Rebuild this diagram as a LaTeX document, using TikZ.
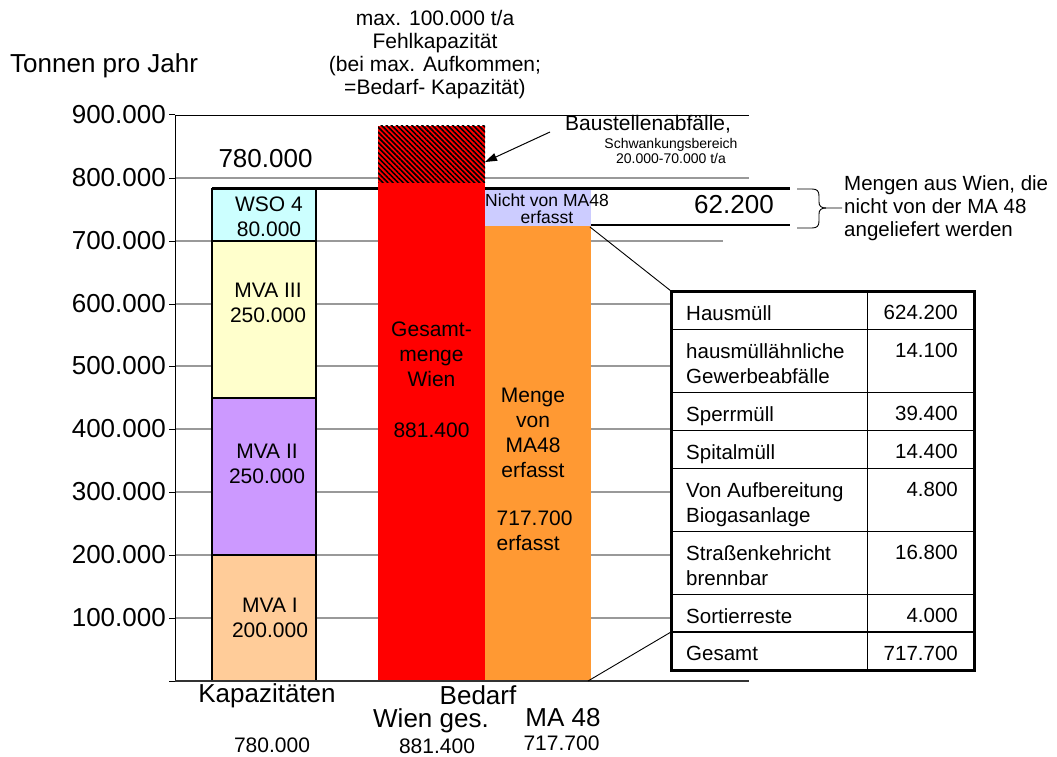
\documentclass[tikz,border=0pt]{standalone}
\usepackage{fontspec}
\setmainfont{Liberation Sans}
\usepackage{tikz}
\usetikzlibrary{arrows.meta,patterns.meta}
\definecolor{mvaone}{HTML}{FFCC99}
\definecolor{mvatwo}{HTML}{CC99FF}
\definecolor{mvathree}{HTML}{FFFFCC}
\definecolor{wsofour}{HTML}{CCFFFF}
\definecolor{nichtlila}{HTML}{CCCCFF}
\definecolor{maorange}{HTML}{FF9933}
\definecolor{gridgray}{HTML}{999999}
\newcommand{\fbig}{\fontsize{26}{30}\selectfont}
\newcommand{\fmid}{\fontsize{21}{25}\selectfont}
\newcommand{\fnote}{\fontsize{21}{23}\selectfont}
\newcommand{\fside}{\fontsize{20.5}{23}\selectfont}
\newcommand{\ftab}{\fontsize{20.5}{25}\selectfont}
\newcommand{\fsml}{\fontsize{17.5}{17}\selectfont}
\newcommand{\ftiny}{\fontsize{14}{15}\selectfont}

\begin{document}
\begin{tikzpicture}[x=1pt,y=-1pt,
  txt/.style={inner sep=0pt,font=\fmid},
  segbox/.style={draw=black,line width=1.2pt},
  thickrule/.style={line width=2.6pt}]
  \useasboundingbox (0,0) rectangle (1057,757);
  % grid
  \draw[gridgray,line width=1.2pt] (175,618) -- (749,618) (175,555) -- (749,555)
    (175,492) -- (749,492) (175,429) -- (749,429) (175,366) -- (749,366)
    (175,304) -- (749,304) (175,241) -- (723,241) (175,178) -- (749,178);
  \draw[line width=0.9pt] (175,115) -- (749,115);
  \draw[thickrule] (212,188.5) -- (790,188.5);
  \draw[thickrule] (590,225) -- (790,225);
  % Kapazitaeten
  \fill[mvaone] (212,555) rectangle (316,681);
  \draw[segbox] (212,555) rectangle (316,681);
  \fill[mvatwo] (212,398) rectangle (316,555);
  \draw[segbox] (212,398) rectangle (316,555);
  \fill[mvathree] (212,241) rectangle (316,398);
  \draw[segbox] (212,241) rectangle (316,398);
  \fill[wsofour] (212,189) rectangle (316,241);
  \draw[segbox] (212,189) rectangle (316,241);
  % Bedarf
  \fill[red] (378,182) rectangle (485,681);
  \fill[red] (378,126) rectangle (485,182);
  \fill[pattern={Lines[angle=-45,distance=3.6pt,line width=1.6pt]},pattern color=black] (378,126) rectangle (485,182);
  \fill[maorange] (485,226) rectangle (591,681);
  \fill[nichtlila] (485,190) rectangle (591,226);
  \coordinate (hatchtip) at (485,162);
  \coordinate (lilacorner) at (590,227);
  \coordinate (orangefoot) at (588,681);
  % axes
  \draw[line width=1pt] (175,115) -- (175,681);
  \draw[line width=1pt] (169,115) -- (175,115) (169,178) -- (175,178) (169,241) -- (175,241)
    (169,304) -- (175,304) (169,366) -- (175,366) (169,429) -- (175,429) (169,492) -- (175,492)
    (169,555) -- (175,555) (169,618) -- (175,618) (169,681) -- (175,681);
  \draw[black!80,line width=1.4pt] (175,681) -- (749,681);
  % table
  \coordinate (tabtl) at (671,291);
  \coordinate (tabsep) at (671,632);
  \draw[line width=0.9pt] (lilacorner) -- (tabtl);
  \draw[line width=0.9pt] (orangefoot) -- (tabsep);
  \fill[white] (671,291) rectangle (974,670);
  \draw[line width=1pt] (671,329) -- (974,329) (671,392) -- (974,392) (671,430) -- (974,430)
    (671,468) -- (974,468) (671,531) -- (974,531) (671,594) -- (974,594) (867,291) -- (867,670);
  \draw[line width=2.6pt] (671,632) -- (974,632);
  \draw[line width=3pt] (671,291) rectangle (974,670);
  \node[txt,font=\ftab,align=left,anchor=north west] (hausmuell) at (686,305) {Hausmüll};
  \node[txt,font=\ftab,align=left,anchor=north west] (gewerbe) at (686,343) {hausmüllähnliche\\Gewerbeabfälle};
  \node[txt,font=\ftab,align=left,anchor=north west] (sperr) at (686,406) {Sperrmüll};
  \node[txt,font=\ftab,align=left,anchor=north west] (spital) at (686,444) {Spitalmüll};
  \node[txt,font=\ftab,align=left,anchor=north west] (biogas) at (686,482) {Von Aufbereitung\\Biogasanlage};
  \node[txt,font=\ftab,align=left,anchor=north west] (strasse) at (686,545) {Straßenkehricht\\brennbar};
  \node[txt,font=\ftab,align=left,anchor=north west] (sortier) at (686,608) {Sortierreste};
  \node[txt,font=\ftab,align=left,anchor=north west] (gesamt) at (686,646) {Gesamt};
  \node[txt,font=\ftab,anchor=north east] (hausmuellval) at (958,305) {624.200};
  \node[txt,font=\ftab,anchor=north east] (gewerbeval) at (958,343) {14.100};
  \node[txt,font=\ftab,anchor=north east] (sperrval) at (958,406) {39.400};
  \node[txt,font=\ftab,anchor=north east] (spitalval) at (958,444) {14.400};
  \node[txt,font=\ftab,anchor=north east] (biogasval) at (958,482) {4.800};
  \node[txt,font=\ftab,anchor=north east] (strasseval) at (958,545) {16.800};
  \node[txt,font=\ftab,anchor=north east] (sortierval) at (958,608) {4.000};
  \node[txt,font=\ftab,anchor=north east] (gesamtval) at (958,646) {717.700};
  % axis labels
  \node[txt,font=\fbig,anchor=base west] (ylabel) at (10,73) {Tonnen pro Jahr};
  \node[txt,font=\fbig,anchor=east] (tick900) at (166,115) {900.000};
  \node[txt,font=\fbig,anchor=east] (tick800) at (166,178) {800.000};
  \node[txt,font=\fbig,anchor=east] (tick700) at (166,241) {700.000};
  \node[txt,font=\fbig,anchor=east] (tick600) at (166,304) {600.000};
  \node[txt,font=\fbig,anchor=east] (tick500) at (166,366) {500.000};
  \node[txt,font=\fbig,anchor=east] (tick400) at (166,429) {400.000};
  \node[txt,font=\fbig,anchor=east] (tick300) at (166,492) {300.000};
  \node[txt,font=\fbig,anchor=east] (tick200) at (166,555) {200.000};
  \node[txt,font=\fbig,anchor=east] (tick100) at (166,618) {100.000};
  \node[txt,font=\fbig,anchor=base] (kap) at (267,702) {Kapazitäten};
  \node[txt,font=\fbig,anchor=base] (bedarf) at (478,704) {Bedarf};
  \node[txt,font=\fbig,anchor=base] (wienges) at (431,727) {Wien ges.};
  \node[txt,font=\fbig,anchor=base] (maachtund) at (563,726) {MA 48};
  \node[txt,anchor=base] (kapsum) at (272,752) {780.000};
  \node[txt,anchor=base] (wiensum) at (437,753) {881.400};
  \node[txt,anchor=base] (masum) at (561.5,750) {717.700};
  % bar labels
  \node[txt,font=\fbig,anchor=base] (kaptop) at (265.5,167) {780.000};
  \node[txt,align=center,anchor=north] (wso) at (269,196.7) {WSO 4\\80.000};
  \node[txt,align=center,anchor=north] (mvadrei) at (268,282.7) {MVA III\\250.000};
  \node[txt,align=center,anchor=north] (mvazwei) at (267,443.7) {MVA II\\250.000};
  \node[txt,align=center,anchor=north] (mvaeins) at (270,597.7) {MVA I\\200.000};
  \node[txt,align=center,anchor=north] (gesamtwien) at (431.5,321.7) {Gesamt-\\menge\\Wien\\[26pt]881.400};
  \node[txt,align=center,anchor=north] (mengema) at (533,387.4) {Menge\\von\\MA48\\erfasst};
  \node[txt,align=left,anchor=north west] (maerfasst) at (496.5,510.4) {717.700\\erfasst};
  \node[txt,font=\fsml,align=center,anchor=north] (nichtma) at (547,193.2) {Nicht von MA48\\erfasst};
  % notes
  \node[txt,font=\fnote,align=center,anchor=north] (fehlkap) at (435,9.7) {max. 100.000 t/a\\Fehlkapazität\\(bei max. Aufkommen;\\=Bedarf- Kapazität)};
  \node[txt,anchor=base west] (baustelle) at (565,131) {Baustellenabfälle,};
  \node[txt,font=\ftiny,align=center,anchor=north] (schwank) at (671,137.8) {Schwankungsbereich\\20.000-70.000 t/a};
  \draw[-{Triangle[length=12pt,width=8pt]},line width=1pt] ([xshift=-15pt,yshift=-1pt]baustelle.base west) -- (hatchtip);
  \node[txt,font=\fbig,anchor=base] (diff) at (734,213) {62.200};
  \draw[line width=0.9pt] (797,189) -- (812,189) .. controls (817,189) and (819,191) .. (819,196)
    -- (819,202) .. controls (819,206) and (821,208) .. (826,208) -- (842,208);
  \draw[line width=0.9pt] (826,208) .. controls (821,208) and (819,210) .. (819,214)
    -- (819,221) .. controls (819,226) and (817,228) .. (812,228) -- (797,228);
  \node[txt,font=\fside,align=left,anchor=north west] (mengen) at (844,175.5) {Mengen aus Wien, die\\nicht von der MA 48\\angeliefert werden};
\end{tikzpicture}
\end{document}
